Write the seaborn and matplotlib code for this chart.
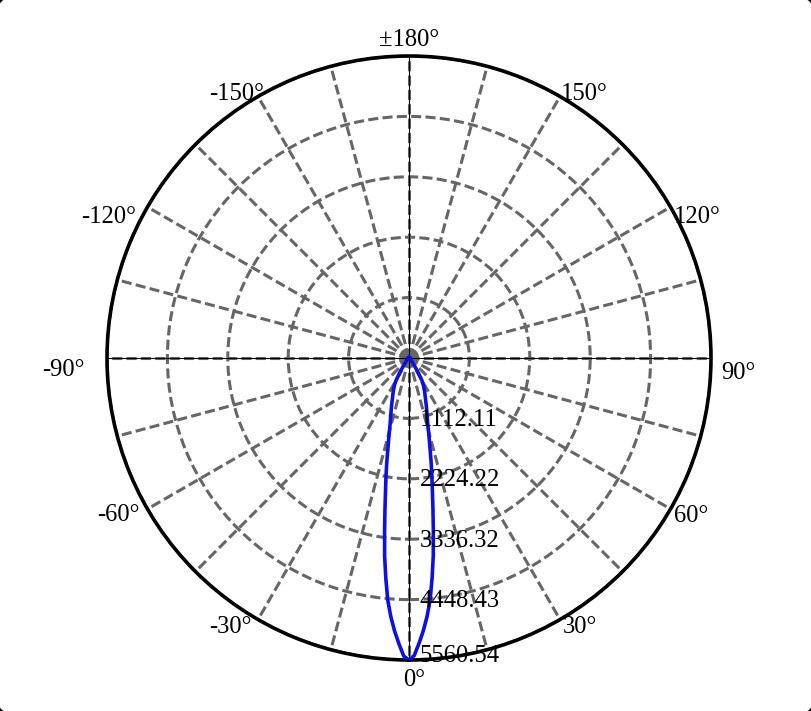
import numpy as np
import pandas as pd
import matplotlib
matplotlib.use("Agg")
import matplotlib.pyplot as plt
import seaborn as sns
from matplotlib.patches import FancyBboxPatch

# ---- data ----
angles_pos = [0, 1, 2, 3, 4, 5, 6, 7, 8, 9, 10, 11, 12, 14, 16, 18, 20, 22, 25, 28, 30, 32, 35, 40, 45, 50, 60, 70, 80, 90, 105, 120, 135, 150, 165, 180]
intens_pos = [5560.54, 5480, 5260, 5030, 4770, 4470, 4070, 3670, 3220, 2820, 2480, 2210, 1960, 1540, 1250, 1070, 930, 810, 680, 560, 470, 330, 180, 90, 60, 45, 35, 30, 25, 22, 20, 18, 16, 15, 14, 14]
angles_neg = [-180, -165, -150, -135, -120, -105, -90, -80, -70, -60, -50, -45, -40, -35, -32, -30, -28, -25, -22, -20, -18, -16, -14, -12, -11, -10, -9, -8, -7, -6, -5, -4, -3, -2, -1]
intens_neg = [14, 14, 15, 16, 18, 20, 22, 25, 30, 35, 45, 60, 90, 190, 340, 480, 570, 690, 820, 940, 1080, 1260, 1550, 1970, 2220, 2490, 2830, 3230, 3680, 4080, 4480, 4780, 5040, 5270, 5490]

ring_values = [1112.11, 2224.22, 3336.32, 4448.43, 5560.54]
ring_labels = ["1112.11", "2224.22", "3336.32", "4448.43", "5560.54"]
angle_ticks = [0, 30, 60, 90, 120, 150, 180, 210, 240, 270, 300, 330]
angle_tick_labels = ["0°", "30°", "60°", "90°", "120°", "150°", "±180°", "-150°", "-120°", "-90°", "-60°", "-30°"]

df = pd.DataFrame({
    "angle": angles_neg + angles_pos + [180],
    "intensity": intens_neg + intens_pos + [intens_neg[0]],
})
df["theta"] = np.deg2rad(df["angle"])

# ---- styling ----
sns.set_style("white")
plt.rcParams["font.family"] = ["Liberation Serif", "DejaVu Serif"]
FS = 17.7

W, H = 811, 711
fig = plt.figure(figsize=(W / 100, H / 100), dpi=100)
fig.patch.set_facecolor("black")
off = 2.0
bg = FancyBboxPatch((-off / W, -off / H), 1 + 2 * off / W, 1 + 2 * off / H,
                    boxstyle="round,pad=0,rounding_size=%f" % (14 / W),
                    transform=fig.transFigure, facecolor="white", edgecolor="none",
                    linewidth=0, zorder=-5, mutation_aspect=W / H)
fig.add_artist(bg)

ax = fig.add_axes([107 / W, 51 / H, 604 / W, 604 / H], projection="polar")
ax.set_facecolor("white")
ax.set_theta_zero_location("S")
ax.set_theta_direction(1)
rmax = ring_values[-1]
ax.set_ylim(0, rmax)

ax.set_xticks(np.deg2rad(np.arange(0, 360, 15)))
ax.set_xticklabels([])
ax.set_yticks(ring_values)
ax.set_yticklabels([])
ax.grid(True, color="#666666", linestyle=(0, (3.3, 1.4)), linewidth=2.2)
ax.spines["polar"].set_linewidth(2.6)
ax.spines["polar"].set_color("black")
ax.tick_params(length=0)

# thin black crosshair
for a in [0, 90, 180, 270]:
    ax.axvline(np.deg2rad(a), color="black", linewidth=0.8, zorder=3)

sns.lineplot(data=df, x="theta", y="intensity", ax=ax, sort=False, estimator=None,
             color="#0f0fe0", linewidth=2.6, zorder=4)
ax.set_xlabel("")
ax.set_ylabel("")
ax.set_ylim(0, rmax)

# angle labels: (ha, dx px, dy px down)
label_pos = {
    0: ("center", 5, 20), 30: ("left", 3, 7), 60: ("left", 3, 7), 90: ("left", 10, 15),
    120: ("left", 3, 10), 150: ("left", 1, -2), 180: ("center", 0, -16),
    210: ("right", 6, -2), 240: ("right", -11, 10), 270: ("right", -22, 12),
    300: ("right", -8, 6), 330: ("right", -6, 7),
}
for a, lab in zip(angle_ticks, angle_tick_labels):
    ha, dx, dy = label_pos[a]
    ax.annotate(lab, xy=(np.deg2rad(a), rmax), xytext=(dx * 0.72, -dy * 0.72),
                textcoords="offset points", ha=ha, va="center", fontsize=FS,
                annotation_clip=False, color="black")

# radial labels along 0°
for r, lab in zip(ring_values, ring_labels):
    ax.annotate(lab, xy=(0, r), xytext=(7.5, -1 if r < rmax else 3), textcoords="offset points",
                ha="left", va="center", fontsize=FS, annotation_clip=False,
                color="black", zorder=5)

fig.savefig("out.png", dpi=100, facecolor=fig.get_facecolor())
